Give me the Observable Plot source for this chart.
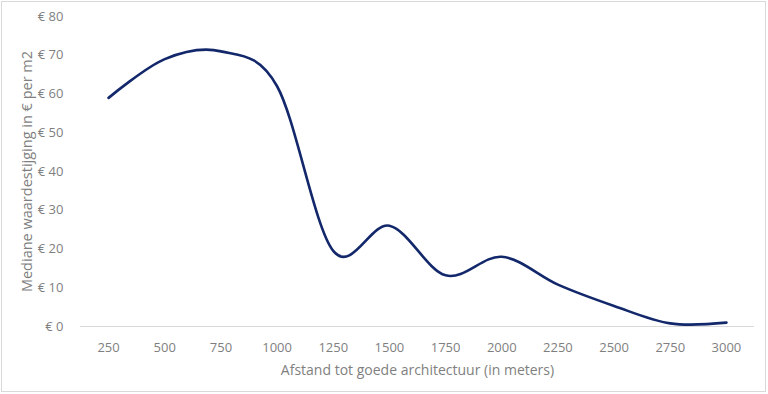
<!DOCTYPE html>
<html>
<head>
<meta charset="utf-8">
<script src="https://cdn.jsdelivr.net/npm/d3@7"></script>
<script src="https://cdn.jsdelivr.net/npm/@observablehq/plot@0.6"></script>
<style>
  body { margin: 0; background: #fff; }
  #wrap { position: relative; width: 768px; height: 394px; }
  #border { position: absolute; left: 1px; top: 1px; width: 763px; height: 389px; border: 1px solid #d9d9d9; pointer-events: none; }
</style>
</head>
<body>
<div id="wrap"><div id="chart"></div><div id="border"></div></div>
<script>
const distances = [250, 500, 750, 1000, 1250, 1500, 1750, 2000, 2250, 2500, 2750, 3000];
const values = [59, 69, 71, 62, 19.5, 26, 13.2, 18, 10.8, 5.3, 0.8, 1];
const yTicks = [0, 10, 20, 30, 40, 50, 60, 70, 80];

const data = distances.map((d, i) => ({distance: d, value: values[i]}));

const chart = Plot.plot({
  width: 768,
  height: 394,
  marginTop: 16,
  marginBottom: 68,
  marginLeft: 80,
  marginRight: 14,
  style: {fontFamily: "'Open Sans', sans-serif", fontSize: "13px", color: "#7f7f7f", background: "transparent"},
  x: {domain: [125, 3125]},
  y: {domain: [0, 80]},
  marks: [
    Plot.ruleY([0], {stroke: "#d9d9d9", strokeWidth: 1}),
    Plot.axisX({ticks: distances, tickSize: 0, tickPadding: 16, tickFormat: d => String(d), fill: "#7f7f7f", label: null}),
    Plot.axisX({ticks: [], label: "Afstand tot goede architectuur (in meters)", labelAnchor: "center", labelOffset: 48, labelArrow: "none", fontSize: 14, fill: "#7f7f7f"}),
    Plot.axisY({ticks: yTicks, tickSize: 0, tickPadding: 17, tickFormat: d => "€ " + d, fill: "#7f7f7f", label: null}),
    Plot.axisY({ticks: [], label: "Mediane waardestijging in € per m2", labelAnchor: "center", labelOffset: 59, labelArrow: "none", fontSize: 14.5, fill: "#7f7f7f"}),
    Plot.line(data, {x: "distance", y: "value", curve: "cardinal", tension: 0, stroke: "#13286b", strokeWidth: 2.6})
  ]
});
document.getElementById("chart").append(chart);
</script>
</body>
</html>
